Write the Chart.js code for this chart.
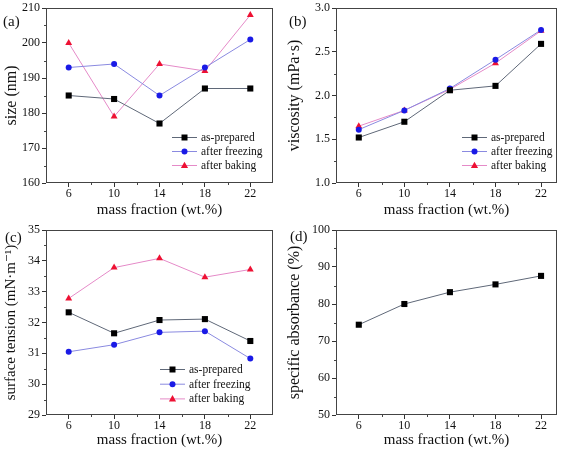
<!DOCTYPE html>
<html>
<head>
<meta charset="utf-8">
<script src="https://cdn.jsdelivr.net/npm/chart.js@4.4.0/dist/chart.umd.min.js"></script>
<style>
  html, body { margin: 0; padding: 0; background: #fff; }
  #wrap { position: relative; width: 567px; height: 452px; overflow: hidden; }
  canvas { position: absolute; }
</style>
</head>
<body>
<div id="wrap">
  <canvas id="chartA" width="283" height="222" style="left:0;top:0"></canvas>
  <canvas id="chartB" width="284" height="222" style="left:283px;top:0"></canvas>
  <canvas id="chartC" width="283" height="230" style="left:0;top:222px"></canvas>
  <canvas id="chartD" width="284" height="230" style="left:283px;top:222px"></canvas>
</div>
<script>
// ---------- DATA ----------
const massFraction = [6, 10, 14, 18, 22];
const seriesNames = ["as-prepared", "after freezing", "after baking"];

const sizePrepared = [185, 184, 177, 187, 187];
const sizeFreezing = [193, 194, 185, 193, 201];
const sizeBaking = [200, 179, 194, 192, 208];

const viscPrepared = [1.52, 1.70, 2.06, 2.11, 2.59];
const viscFreezing = [1.61, 1.83, 2.08, 2.41, 2.75];
const viscBaking = [1.65, 1.83, 2.07, 2.37, 2.74];

const tensionPrepared = [32.33, 31.65, 32.08, 32.11, 31.40];
const tensionFreezing = [31.05, 31.28, 31.68, 31.72, 30.83];
const tensionBaking = [32.78, 33.78, 34.08, 33.47, 33.72];

const absorbance = [74.4, 80.0, 83.2, 85.3, 87.6];

const xTicks = [6, 10, 14, 18, 22];
const xMinorTicks = [8, 12, 16, 20];
const sizeTicks = [160, 170, 180, 190, 200, 210];
const viscTicks = [1.0, 1.5, 2.0, 2.5, 3.0];
const tensionTicks = [29, 30, 31, 32, 33, 34, 35];
const absTicks = [50, 60, 70, 80, 90, 100];

// ---------- STYLE ----------
const FONT = "'Liberation Serif', 'DejaVu Serif', serif";
Chart.defaults.font.family = FONT;
Chart.defaults.color = "#111";

const looks = [
  { line: "#5f6878", point: "#000000", shape: "rect", radius: 4.3 },
  { line: "#8a8ae0", point: "#1a1ae6", shape: "circle", radius: 3 },
  { line: "#e58ac8", point: "#ee1133", shape: "triangle", radius: 4 }
];

function drawMarker(ctx, shape, x, y, color) {
  ctx.fillStyle = color;
  ctx.beginPath();
  if (shape === "rect") {
    ctx.rect(x - 3, y - 3, 6, 6);
  } else if (shape === "circle") {
    ctx.arc(x, y, 3, 0, Math.PI * 2);
  } else {
    ctx.moveTo(x, y - 3.8);
    ctx.lineTo(x + 3.6, y + 2.6);
    ctx.lineTo(x - 3.6, y + 2.6);
    ctx.closePath();
  }
  ctx.fill();
}

// frame, minor ticks, panel label and legend
const framePlugin = {
  id: "frame",
  afterDraw(chart, args, opts) {
    const ctx = chart.ctx;
    const a = chart.chartArea;
    const xs = chart.scales.x, ys = chart.scales.y;
    ctx.save();
    ctx.strokeStyle = "#444";
    ctx.lineWidth = 1;
    ctx.strokeRect(Math.round(a.left) + 0.5, Math.round(a.top) + 0.5,
      Math.round(a.right - a.left) - 1, Math.round(a.bottom - a.top) - 1);

    // minor ticks
    ctx.beginPath();
    xMinorTicks.forEach(v => {
      const px = Math.round(xs.getPixelForValue(v)) + 0.5;
      ctx.moveTo(px, a.bottom);
      ctx.lineTo(px, a.bottom + 2);
    });
    const yt = opts.yTicks;
    for (let i = 0; i < yt.length - 1; i++) {
      const py = Math.round(ys.getPixelForValue((yt[i] + yt[i + 1]) / 2)) + 0.5;
      ctx.moveTo(a.left, py);
      ctx.lineTo(a.left - 2, py);
    }
    ctx.stroke();

    // panel label
    ctx.fillStyle = "#111";
    ctx.font = "15px " + FONT;
    ctx.textBaseline = "middle";
    ctx.fillText(opts.label, opts.labelX, opts.labelY);

    // legend
    if (opts.legend) {
      const lg = opts.legend;
      ctx.font = "11.5px " + FONT;
      chart.data.datasets.forEach((ds, i) => {
        const y = lg.y + i * lg.row;
        const lk = looks[i];
        ctx.strokeStyle = lk.line;
        ctx.beginPath();
        ctx.moveTo(lg.x, y + 0.5);
        ctx.lineTo(lg.x + lg.len, y + 0.5);
        ctx.stroke();
        drawMarker(ctx, lk.shape, lg.x + lg.len / 2, y + 0.5, lk.point);
        ctx.fillStyle = "#111";
        ctx.fillText(ds.label, lg.x + lg.len + 4, y + 1);
      });
    }
    ctx.restore();
  }
};

function makeChart(id, o) {
  const canvas = document.getElementById(id);
  const W = canvas.width, H = canvas.height;
  const datasets = o.values.map((vals, i) => ({
    label: seriesNames[i],
    data: vals.map((v, k) => ({ x: massFraction[k], y: v })),
    borderColor: looks[i].line,
    borderWidth: 1,
    pointStyle: looks[i].shape,
    pointRadius: looks[i].radius,
    pointHoverRadius: looks[i].radius,
    pointBackgroundColor: looks[i].point,
    pointBorderColor: looks[i].point,
    pointBorderWidth: 0,
    tension: 0,
    fill: false
  }));

  return new Chart(canvas, {
    type: "line",
    data: { datasets: datasets },
    options: {
      responsive: false,
      animation: false,
      devicePixelRatio: 1,
      layout: { padding: { left: 0, top: o.area.top, right: W - o.area.right, bottom: 0 } },
      plugins: {
        legend: { display: false },
        tooltip: { enabled: false },
        frame: { label: o.label, labelX: o.labelX, labelY: o.labelY, legend: o.legend, yTicks: o.yTicks }
      },
      scales: {
        x: {
          type: "linear",
          min: 4,
          max: o.xMax,
          afterBuildTicks: s => { s.ticks = xTicks.map(v => ({ value: v })); },
          afterFit: s => { s.height = H - o.area.bottom; },
          border: { display: false },
          grid: { drawOnChartArea: false, drawTicks: true, tickLength: 4, color: "#333" },
          ticks: { autoSkip: false, maxRotation: 0, padding: 1, font: { size: 12, lineHeight: 1 }, color: "#111" },
          title: { display: true, text: "mass fraction (wt.%)", font: { size: 15 }, padding: { top: 0, bottom: 3 }, color: "#111" }
        },
        y: {
          type: "linear",
          min: o.yTicks[0],
          max: o.yTicks[o.yTicks.length - 1],
          afterBuildTicks: s => { s.ticks = o.yTicks.map(v => ({ value: v })); },
          afterFit: s => { s.width = o.area.left; },
          border: { display: false },
          grid: { drawOnChartArea: false, drawTicks: true, tickLength: 4, color: "#333" },
          ticks: {
            autoSkip: false, padding: 2, font: { size: 12, lineHeight: 1 }, color: "#111",
            callback: v => v.toFixed(o.digits)
          },
          title: { display: true, text: o.yTitle, font: { size: o.yTitleSize }, padding: { top: 2, bottom: 0 }, color: "#111" }
        }
      }
    },
    plugins: [framePlugin]
  });
}

makeChart("chartA", {
  values: [sizePrepared, sizeFreezing, sizeBaking],
  yTicks: sizeTicks, digits: 0, yTitle: "size (nm)", yTitleSize: 16, xMax: 24,
  area: { left: 46, top: 6, right: 273, bottom: 183 },
  label: "(a)", labelX: 3, labelY: 22,
  legend: { x: 172, y: 137, row: 14, len: 25 }
});

makeChart("chartB", {
  values: [viscPrepared, viscFreezing, viscBaking],
  yTicks: viscTicks, digits: 1, yTitle: "viscosity (mPa\u00b7s)", yTitleSize: 16, xMax: 23.4,
  area: { left: 53, top: 6, right: 274, bottom: 183 },
  label: "(b)", labelX: 6, labelY: 22,
  legend: { x: 179, y: 137, row: 14, len: 25 }
});

makeChart("chartC", {
  values: [tensionPrepared, tensionFreezing, tensionBaking],
  yTicks: tensionTicks, digits: 0, yTitle: "surface tension (mN\u00b7m\u207b\u00b9)", yTitleSize: 15, xMax: 24,
  area: { left: 46, top: 7, right: 273, bottom: 193 },
  label: "(c)", labelX: 5, labelY: 16,
  legend: { x: 160, y: 147, row: 14.7, len: 25 }
});

makeChart("chartD", {
  values: [absorbance],
  yTicks: absTicks, digits: 0, yTitle: "specific absorbance (%)", yTitleSize: 16, xMax: 23.4,
  area: { left: 53, top: 7, right: 274, bottom: 193 },
  label: "(d)", labelX: 7, labelY: 15,
  legend: null
});
</script>
</body>
</html>
